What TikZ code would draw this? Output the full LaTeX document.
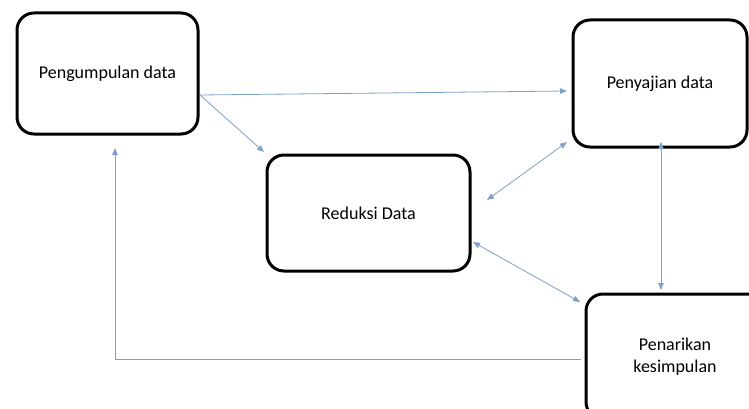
\documentclass[tikz,border=0pt]{standalone}
\usepackage{fontspec}
\setmainfont{Carlito}
\usetikzlibrary{arrows.meta}
\definecolor{conn}{RGB}{125,160,200}
\tikzset{
  box/.style={draw=black, line width=3pt, rounded corners=17pt, fill=white, align=center,
    font=\fontsize{18}{22}\selectfont, inner sep=0pt},
  conn/.style={draw=conn, line width=0.8pt, -{Triangle[length=7pt,width=5.5pt]}},
  dconn/.style={draw=conn, line width=0.8pt, {Triangle[length=7pt,width=5.5pt]}-{Triangle[length=7pt,width=5.5pt]}}
}
\begin{document}
\begin{tikzpicture}[x=1pt,y=-1pt]
\useasboundingbox (0,0) rectangle (749,409);
\fill[white] (0,0) rectangle (749,409);
\node[box, minimum width=181pt, minimum height=121pt] (b1) at (107.5,73.5) {Pengumpulan data};
\node[box, minimum width=174pt, minimum height=127pt] (b2) at (660,83.5) {Penyajian data};
\node[box, minimum width=203pt, minimum height=116pt] (b3) at (368.5,213) {Reduksi Data};
\node[box, minimum width=178pt, minimum height=125pt] (b4) at (675,356.5) {Penarikan\\kesimpulan};
% free ends
\coordinate (s1) at (200,95);
\coordinate (e12) at (567,91);
\coordinate (e13) at (264,152);
\coordinate (r2a) at (487,200);
\coordinate (r2b) at (567,142);
\coordinate (r4a) at (473,242);
\coordinate (r4b) at (580,302);
\coordinate (v2) at (661,142);
\coordinate (v4) at (661,290);
\coordinate (p4) at (581,359);
\coordinate (c1) at (115,359);
\coordinate (p1) at (115,148);
\draw[conn] (s1) -- (e12);
\draw[conn] (s1) -- (e13);
\draw[dconn] (r2a) -- (r2b);
\draw[dconn] (r4a) -- (r4b);
\draw[dconn] (v2) -- (v4);
\draw[conn] (p4) -- (c1) -- (p1);
\end{tikzpicture}
\end{document}
